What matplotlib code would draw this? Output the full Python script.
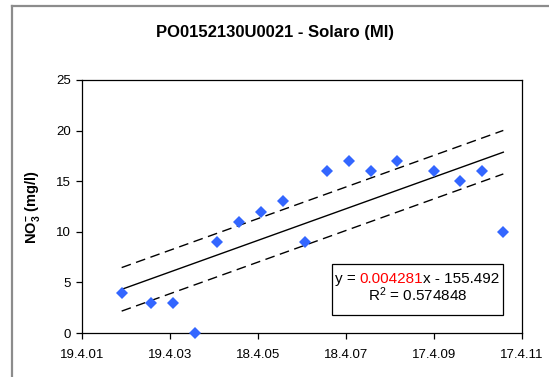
import matplotlib
matplotlib.use("Agg")
import matplotlib.pyplot as plt
import pandas as pd
from matplotlib.lines import Line2D
from matplotlib.patches import Rectangle

plt.rcParams["font.family"] = ["Liberation Sans", "DejaVu Sans"]
plt.rcParams["mathtext.fontset"] = "custom"
plt.rcParams["mathtext.rm"] = "Liberation Sans"
plt.rcParams["mathtext.bf"] = "Liberation Sans:bold"
plt.rcParams["mathtext.it"] = "Liberation Sans:italic"

# Nitrate samples (sampling date, mg/l)
sample_dates = [
    "2002-03-14", "2002-11-12", "2003-05-11", "2003-11-16", "2004-05-16",
    "2004-11-14", "2005-05-14", "2005-11-13", "2006-05-14", "2006-11-13",
    "2007-05-14", "2007-11-13", "2008-06-15", "2009-04-17", "2009-11-20",
    "2010-05-23", "2010-11-13",
]
no3_values = [4, 3, 3, 0, 9, 11, 12, 13, 9, 16, 17, 16, 17, 16, 15, 16, 10]

# Linear trend on spreadsheet date serials, with its band half-width
SLOPE = 0.004281
INTERCEPT = -155.492
R_SQUARED = 0.574848
BAND_HALF_WIDTH = 2.15

x_tick_dates = ["2001-04-19", "2003-04-19", "2005-04-18",
                "2007-04-18", "2009-04-17", "2011-04-17"]
x_tick_labels = ["19.4.01", "19.4.03", "18.4.05", "18.4.07", "17.4.09", "17.4.11"]
y_ticks = [0, 5, 10, 15, 20, 25]

TITLE = "PO0152130U0021 - Solaro (MI)"

EPOCH = pd.Timestamp("1899-12-30")


def to_serial(dates):
    return [(pd.Timestamp(d) - EPOCH).days for d in dates]


xs = to_serial(sample_dates)
xt = to_serial(x_tick_dates)

W, H = 549, 377
fig = plt.figure(figsize=(W / 100, H / 100), dpi=100)
fig.patch.set_facecolor("white")

# chart-area frame
fig.add_artist(Line2D([12 / W, 12 / W], [0, 1 - 6 / H], transform=fig.transFigure,
                      color="#8c8c8c", lw=1.6))
fig.add_artist(Line2D([12 / W, 1], [1 - 6 / H, 1 - 6 / H], transform=fig.transFigure,
                      color="#8c8c8c", lw=1.6))

ax = fig.add_axes([82 / W, 1 - 333 / H, 440 / W, 253 / H])

x_first, x_last = xs[0], xs[-1]
trend_x = [x_first, x_last]
trend_y = [SLOPE * v + INTERCEPT for v in trend_x]
ax.plot(trend_x, trend_y, color="black", lw=1.0, zorder=2)
ax.plot(trend_x, [v + BAND_HALF_WIDTH for v in trend_y], color="black", lw=1.0,
        dashes=(7, 4), zorder=2)
ax.plot(trend_x, [v - BAND_HALF_WIDTH for v in trend_y], color="black", lw=1.0,
        dashes=(7, 4), zorder=2)

ax.plot(xs, no3_values, linestyle="none", marker="D", markersize=6,
        color="#3366ff", markeredgewidth=0, zorder=3, clip_on=False)

ax.set_xlim(xt[0], xt[-1])
ax.set_ylim(0, 25)
ax.set_xticks(xt)
ax.set_xticklabels(x_tick_labels)
ax.set_yticks(y_ticks)
ax.set_yticklabels([str(v) for v in y_ticks])
ax.tick_params(axis="both", direction="out", length=4, width=0.9,
               labelsize=9.5, colors="black")
ax.tick_params(axis="x", pad=7.5)
ax.tick_params(axis="y", pad=4)
for sp in ax.spines.values():
    sp.set_linewidth(0.9)
    sp.set_color("black")

fig.text(275 / W, 1 - 32 / H, TITLE, ha="center", va="center",
         fontsize=12, fontweight="bold")
fig.text(33 / W, 1 - 207 / H, r"NO$_\mathbf{3}^\mathbf{-}$ (mg/l)", rotation=90,
         ha="center", va="center", fontsize=10.5, fontweight="bold")

# equation box
bx0, bx1 = (331.7 - 82) / 440, (502.7 - 82) / 440
by0, by1 = (333 - 315) / 253, (333 - 264) / 253
ax.add_patch(Rectangle((bx0, by0), bx1 - bx0, by1 - by0, transform=ax.transAxes,
                       facecolor="white", edgecolor="black", lw=0.9, zorder=4))

renderer = fig.canvas.get_renderer()
cx = 417.3
parts = [("y = ", "black"), (f"{SLOPE:.6f}", "#ff0000"),
         (f"x - {-INTERCEPT:.3f}", "black")]
texts = []
for s, c in parts:
    t = fig.text(0, 1 - 282.7 / H, s, color=c, fontsize=11, ha="left",
                 va="baseline", zorder=5)
    texts.append(t)
widths = [t.get_window_extent(renderer).width for t in texts]
total = sum(widths)
x = cx - total / 2
for t, w in zip(texts, widths):
    t.set_x(x / W)
    x += w
fig.text(cx / W, 1 - 300.7 / H, r"R$^\mathrm{2}$ = " + f"{R_SQUARED:.6f}",
         fontsize=11, ha="center", va="baseline", zorder=5)

fig.savefig("out.png", dpi=100, facecolor="white")
